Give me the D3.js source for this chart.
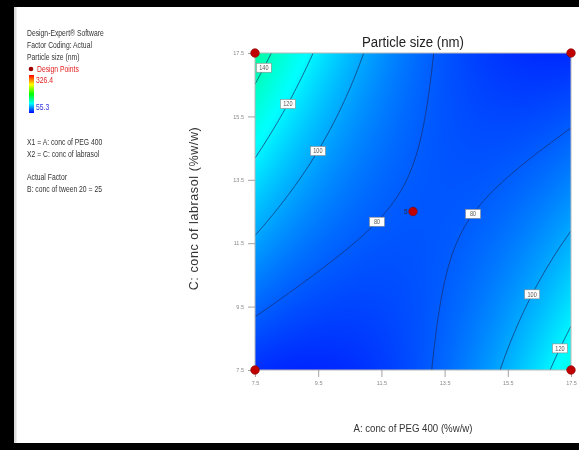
<!DOCTYPE html>
<html>
<head>
<meta charset="utf-8">
<script src="https://cdn.jsdelivr.net/npm/d3@7"></script>
<style>
  html, body { margin: 0; padding: 0; background: #fff; }
  #wrap { position: relative; width: 579px; height: 450px; overflow: hidden; background: #fff; }
  #surface { position: absolute; }
  #chart { position: absolute; left: 0; top: 0; }
</style>
</head>
<body>
<div id="wrap">
  <canvas id="surface"></canvas>
  <svg id="chart" width="579" height="450"></svg>
</div>
<script>
// ---- Data ---------------------------------------------------------------
// Factor axes (actual units, %w/w)
const ticksA = [7.5, 9.5, 11.5, 13.5, 15.5, 17.5];
const ticksC = [7.5, 9.5, 11.5, 13.5, 15.5, 17.5];

// Quadratic response model for particle size in coded factors a, c (B held at 25)
const modelTerms = ["Intercept", "A", "C", "AC", "A^2", "C^2"];
const modelCoefficients = [78.5, -5.0, 4.5, -36.1, 22.6, 2.0];

// Observed response range used by the colour legend
const responseRange = [55.3, 326.4];

// Contour levels drawn on the plot
const contourLevels = [80, 100, 120, 140];

// Design points (actual units) and replicate counts
const designA = [7.5, 17.5, 7.5, 17.5, 12.5];
const designC = [17.5, 17.5, 7.5, 7.5, 12.5];
const designReplicates = [1, 1, 1, 1, 5];

// Contour labels: level and the A value where the label sits on that line
const labelLevels = [140, 120, 100, 80, 80, 100, 120];
const labelA = [7.78, 8.54, 9.49, 11.36, 14.4, 16.27, 17.15];

// Legend text
const infoLines = ["Design-Expert\u00AE Software", "Factor Coding: Actual", "Particle size (nm)"];
const factorLines = ["X1 = A: conc of PEG 400", "X2 = C: conc of labrasol"];
const actualLines = ["Actual Factor", "B: conc of tween 20 = 25"];

// ---- Layout ---------------------------------------------------------------
const W = 579, H = 450;
const plot = { left: 255, top: 53, right: 571, bottom: 370 };
const sans = "'Liberation Sans', Arial, sans-serif";

const x = d3.scaleLinear().domain([7.5, 17.5]).range([plot.left, plot.right]);
const y = d3.scaleLinear().domain([7.5, 17.5]).range([plot.bottom, plot.top]);

const centre = 12.5, half = 5;
function response(A, C) {
  const a = (A - centre) / half, c = (C - centre) / half;
  const basis = [1, a, c, a * c, a * a, c * c];
  return d3.sum(basis, (v, i) => v * modelCoefficients[i]);
}

const [rLo, rHi] = responseRange;
const color = d3.scaleLinear()
  .domain(d3.range(5).map(i => rLo + i * (rHi - rLo) / 4))
  .range(["#0000ff", "#00ffff", "#00ff00", "#ffff00", "#ff0000"])
  .clamp(true);

// ---- Filled surface (canvas) ---------------------------------------------
const pw = plot.right - plot.left, ph = plot.bottom - plot.top;
const canvas = document.getElementById("surface");
canvas.width = pw; canvas.height = ph;
canvas.style.left = plot.left + "px";
canvas.style.top = plot.top + "px";
const ctx = canvas.getContext("2d");
const img = ctx.createImageData(pw, ph);
for (let j = 0; j < ph; j++) {
  const C = y.invert(plot.top + j + 0.5);
  for (let i = 0; i < pw; i++) {
    const A = x.invert(plot.left + i + 0.5);
    const col = d3.rgb(color(response(A, C)));
    const k = (j * pw + i) * 4;
    img.data[k] = col.r; img.data[k + 1] = col.g; img.data[k + 2] = col.b; img.data[k + 3] = 255;
  }
}
ctx.putImageData(img, 0, 0);

// ---- SVG ------------------------------------------------------------------
const svg = d3.select("#chart");

// page frame
svg.append("rect").attr("x", 14).attr("y", 0).attr("width", 2.5).attr("height", H).attr("fill", "#dcdcdc");
svg.append("rect").attr("x", 0).attr("y", 0).attr("width", 14).attr("height", H).attr("fill", "#000");
svg.append("rect").attr("x", 0).attr("y", 0).attr("width", W).attr("height", 7).attr("fill", "#000");
svg.append("rect").attr("x", 0).attr("y", 443).attr("width", W).attr("height", 7).attr("fill", "#000");

svg.append("clipPath").attr("id", "plotClip")
  .append("rect").attr("x", plot.left).attr("y", plot.top).attr("width", pw).attr("height", ph);

// contour lines
const n = 161;
const stepA = 10 / (n - 1), stepC = 10 / (n - 1);
const grid = new Array(n * n);
for (let j = 0; j < n; j++) {
  const C = 17.5 - j * stepC;
  for (let i = 0; i < n; i++) grid[j * n + i] = response(7.5 + i * stepA, C);
}
const contours = d3.contours().size([n, n]).thresholds(contourLevels)(grid);
const proj = d3.geoTransform({
  point(u, v) {
    this.stream.point(x(7.5 + (u - 0.5) * stepA), y(17.5 - (v - 0.5) * stepC));
  }
});
svg.append("g").attr("clip-path", "url(#plotClip)")
  .selectAll("path").data(contours).join("path")
  .attr("d", d3.geoPath(proj))
  .attr("fill", "none")
  .attr("stroke", "#1b2d66")
  .attr("stroke-opacity", 0.8)
  .attr("stroke-width", 0.9);

// plot border
svg.append("rect").attr("x", plot.left).attr("y", plot.top).attr("width", pw).attr("height", ph)
  .attr("fill", "none").attr("stroke", "#b8b8b8").attr("stroke-width", 1);

// contour labels: find C on the line for the given A
function solveC(level, A) {
  const a = (A - centre) / half;
  const [b0, b1, b2, b12, b11, b22] = modelCoefficients;
  const qa = b22, qb = b2 + b12 * a, qc = b0 + b1 * a + b11 * a * a - level;
  const disc = Math.sqrt(Math.max(0, qb * qb - 4 * qa * qc));
  const roots = [(-qb + disc) / (2 * qa), (-qb - disc) / (2 * qa)];
  const c = roots.find(r => r >= -1 && r <= 1) ?? roots[0];
  return centre + c * half;
}
const labels = svg.append("g").selectAll("g").data(labelLevels).join("g")
  .attr("transform", (d, i) => `translate(${x(labelA[i])},${y(solveC(d, labelA[i]))})`);
labels.append("rect").attr("x", -7.5).attr("y", -4.5).attr("width", 15).attr("height", 9)
  .attr("fill", "#fff").attr("stroke", "#8a8a8a").attr("stroke-width", 0.6);
labels.append("text").attr("text-anchor", "middle").attr("y", 2.3)
  .attr("font-family", sans).attr("font-size", 6.5).attr("fill", "#555")
  .attr("transform", "scale(0.85,1)")
  .text(d => d);

// axes
const xAxis = svg.append("g").attr("transform", `translate(0,${plot.bottom})`)
  .call(d3.axisBottom(x).tickValues(ticksA).tickSize(7).tickPadding(4).tickFormat(d3.format(".1f")));
const yAxis = svg.append("g").attr("transform", `translate(${plot.left},0)`)
  .call(d3.axisLeft(y).tickValues(ticksC).tickSize(7).tickPadding(4).tickFormat(d3.format(".1f")));
[xAxis, yAxis].forEach(g => {
  g.select(".domain").remove();
  g.selectAll(".tick line").attr("stroke", "#8c8c8c").attr("stroke-width", 0.8);
  g.selectAll(".tick text").attr("fill", "#8a8a8a").attr("font-family", sans).attr("font-size", 5.5);
});

// design points
svg.append("g").selectAll("circle").data(designA).join("circle")
  .attr("cx", d => x(d)).attr("cy", (d, i) => y(designC[i])).attr("r", 4.3)
  .attr("fill", "#c00000").attr("stroke", "#8a0000").attr("stroke-width", 0.6);
const replicated = designA.map((d, i) => i).filter(i => designReplicates[i] > 1);
svg.append("g").selectAll("text").data(replicated).join("text")
  .attr("x", i => x(designA[i]) - 5.5).attr("y", i => y(designC[i]) + 2.2)
  .attr("text-anchor", "end").attr("font-family", sans).attr("font-size", 6.5).attr("fill", "#2a2a40")
  .text(i => designReplicates[i]);

// titles
svg.append("text").attr("x", (plot.left + plot.right) / 2).attr("y", 47)
  .attr("text-anchor", "middle").attr("font-family", sans).attr("font-size", 14).attr("fill", "#222")
  .attr("textLength", 102).attr("lengthAdjust", "spacingAndGlyphs")
  .text("Particle size (nm)");
svg.append("text").attr("x", (plot.left + plot.right) / 2).attr("y", 432)
  .attr("text-anchor", "middle").attr("font-family", sans).attr("font-size", 11.5).attr("fill", "#333")
  .attr("textLength", 119).attr("lengthAdjust", "spacingAndGlyphs")
  .text("A: conc of PEG 400 (%w/w)");
svg.append("text").attr("transform", `translate(198,${(plot.top + plot.bottom) / 2 - 3}) rotate(-90)`)
  .attr("text-anchor", "middle").attr("font-family", sans).attr("font-size", 12.5).attr("fill", "#333")
  .attr("letter-spacing", 0.6)
  .text("C: conc of labrasol (%w/w)");

// legend (text set in a horizontally condensed face)
const legX = 27;
const leg = svg.append("g");
const legText = leg.append("g")
  .attr("transform", `translate(${legX},0) scale(0.8,1)`)
  .attr("font-family", sans).attr("font-size", 8.5).attr("fill", "#333");
legText.selectAll("text.info").data(infoLines).join("text").attr("class", "info")
  .attr("x", 0).attr("y", (d, i) => 36 + i * 12).text(d => d);
leg.append("circle").attr("cx", 31).attr("cy", 69).attr("r", 2.3).attr("fill", "#a00000");
legText.append("text").attr("x", (37 - legX) / 0.8).attr("y", 72.5).attr("fill", "#e02020").text("Design Points");

const grad = svg.append("defs").append("linearGradient").attr("id", "legendGrad")
  .attr("x1", 0).attr("y1", 1).attr("x2", 0).attr("y2", 0);
color.range().forEach((c, i, arr) => grad.append("stop").attr("offset", i / (arr.length - 1)).attr("stop-color", c));
leg.append("rect").attr("x", 29).attr("y", 75).attr("width", 5).attr("height", 38).attr("fill", "url(#legendGrad)");
legText.append("text").attr("x", (36 - legX) / 0.8).attr("y", 83).attr("fill", "#e02020").text(responseRange[1].toFixed(1));
legText.append("text").attr("x", (36 - legX) / 0.8).attr("y", 110).attr("fill", "#3030e0").text(responseRange[0].toFixed(1));

legText.selectAll("text.factor").data(factorLines).join("text").attr("class", "factor")
  .attr("x", 0).attr("y", (d, i) => 145 + i * 12.5).text(d => d);
legText.selectAll("text.actual").data(actualLines).join("text").attr("class", "actual")
  .attr("x", 0).attr("y", (d, i) => 180 + i * 12.5).text(d => d);
</script>
</body>
</html>
